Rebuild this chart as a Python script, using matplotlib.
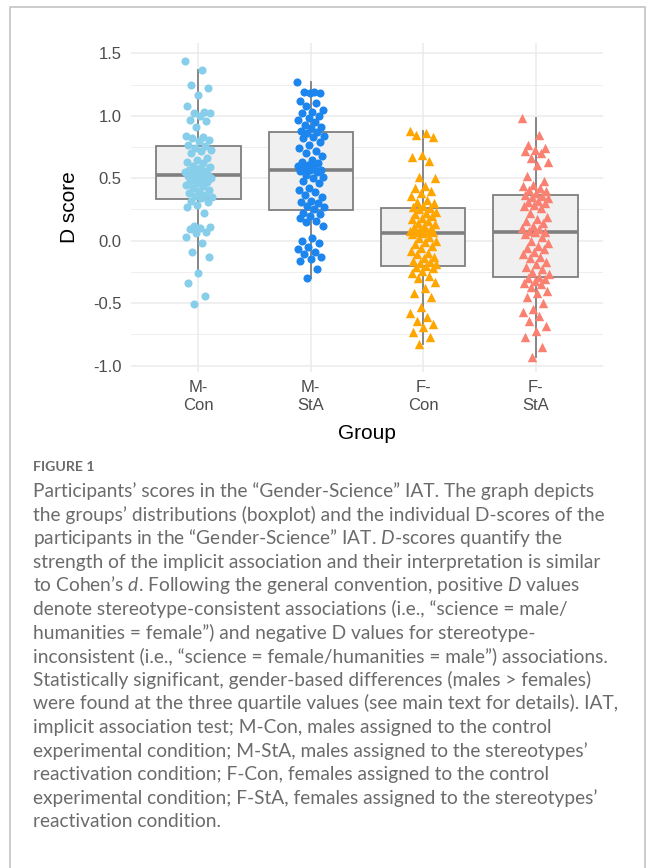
import numpy as np
import matplotlib.pyplot as plt
from matplotlib.patches import Rectangle

plt.rcParams['font.family'] = ['Liberation Sans', 'DejaVu Sans']
plt.rcParams['mathtext.fontset'] = 'custom'
plt.rcParams['mathtext.rm'] = 'Lato'
plt.rcParams['mathtext.it'] = 'Lato:italic'

# --- data (D scores) ---
groups = ["M-\nCon", "M-\nStA", "F-\nCon", "F-\nStA"]

m_con = [1.44, 1.37, 1.25, 1.22, 1.17, 1.08, 1.03, 1.02, 1.02, 1.00, 0.97, 0.96, 0.91,
         0.84, 0.83, 0.82, 0.81, 0.80, 0.77,
         0.76, 0.74, 0.73, 0.72, 0.70, 0.66, 0.65, 0.63, 0.62, 0.60, 0.59, 0.58, 0.57,
         0.56, 0.55, 0.55, 0.54, 0.54, 0.53,
         0.53, 0.52, 0.51, 0.50, 0.50, 0.49, 0.48, 0.47, 0.46, 0.45, 0.44, 0.42, 0.41,
         0.40, 0.38, 0.37, 0.36, 0.35, 0.34,
         0.32, 0.31, 0.29, 0.27, 0.22, 0.12, 0.11, 0.10, 0.09, 0.07, 0.06, 0.03, -0.02,
         -0.09, -0.13, -0.26, -0.34, -0.44, -0.51]

m_sta = [1.27, 1.19, 1.19, 1.18, 1.18, 1.12, 1.10, 1.08, 1.05, 1.03, 1.02, 1.00, 0.98,
         0.97, 0.95, 0.93, 0.91, 0.90, 0.88,
         0.87, 0.86, 0.84, 0.83, 0.82, 0.79, 0.77, 0.74, 0.72, 0.70, 0.68, 0.65, 0.63,
         0.62, 0.61, 0.60, 0.59, 0.58, 0.57,
         0.57, 0.56, 0.55, 0.53, 0.51, 0.50, 0.48, 0.46, 0.42, 0.41, 0.39, 0.37, 0.35,
         0.32, 0.31, 0.30, 0.28, 0.27, 0.25,
         0.22, 0.21, 0.20, 0.18, 0.16, 0.15, 0.12, 0.02, 0.00, -0.02, -0.05, -0.07,
         -0.09, -0.11, -0.13, -0.15, -0.16, -0.23, -0.30]

f_con = [0.88, 0.86, 0.85, 0.83, 0.69, 0.67, 0.64, 0.51, 0.50, 0.44, 0.42, 0.40, 0.38,
         0.36, 0.33, 0.31, 0.30, 0.28, 0.27,
         0.26, 0.25, 0.23, 0.22, 0.21, 0.20, 0.18, 0.17, 0.16, 0.14, 0.13, 0.12, 0.11,
         0.10, 0.09, 0.08, 0.08, 0.07, 0.07,
         0.06, 0.05, 0.03, 0.02, 0.00, -0.01, -0.03, -0.04, -0.06, -0.08, -0.10, -0.11,
         -0.13, -0.14, -0.16, -0.17, -0.18, -0.19, -0.20,
         -0.21, -0.22, -0.24, -0.26, -0.28, -0.30, -0.33, -0.38, -0.42, -0.45, -0.53,
         -0.58, -0.61, -0.64, -0.67, -0.69, -0.73, -0.77, -0.83]

f_sta = [0.98, 0.85, 0.77, 0.74, 0.73, 0.72, 0.70, 0.66, 0.63, 0.61, 0.52, 0.48, 0.45,
         0.44, 0.42, 0.41, 0.40, 0.38, 0.37,
         0.36, 0.35, 0.34, 0.32, 0.31, 0.30, 0.29, 0.28, 0.26, 0.22, 0.19, 0.17, 0.16,
         0.14, 0.12, 0.10, 0.09, 0.08, 0.07,
         0.07, 0.05, 0.03, 0.00, -0.02, -0.04, -0.06, -0.07, -0.09, -0.11, -0.13, -0.14,
         -0.17, -0.19, -0.21, -0.23, -0.25, -0.27, -0.29,
         -0.30, -0.31, -0.32, -0.34, -0.35, -0.37, -0.40, -0.42, -0.45, -0.50, -0.55,
         -0.57, -0.60, -0.64, -0.68, -0.72, -0.77, -0.85, -0.93]

scores = [m_con, m_sta, f_con, f_sta]
colors = ["#87CEEB", "#1C86EE", "#FFA500", "#FA8072"]
markers = ["o", "o", "^", "^"]

caption_lines = [
    "Participants\u2019 scores in the \u201cGender-Science\u201d IAT. The graph depicts",
    "the groups\u2019 distributions (boxplot) and the individual D-scores of the",
    "participants in the \u201cGender-Science\u201d IAT. $D$-scores quantify the",
    "strength of the implicit association and their interpretation is similar",
    "to Cohen\u2019s $d$. Following the general convention, positive $D$ values",
    "denote stereotype-consistent associations (i.e., \u201cscience = male/",
    "humanities = female\u201d) and negative D values for stereotype-",
    "inconsistent (i.e., \u201cscience = female/humanities = male\u201d) associations.",
    "Statistically significant, gender-based differences (males > females)",
    "were found at the three quartile values (see main text for details). IAT,",
    "implicit association test; M-Con, males assigned to the control",
    "experimental condition; M-StA, males assigned to the stereotypes\u2019",
    "reactivation condition; F-Con, females assigned to the control",
    "experimental condition; F-StA, females assigned to the stereotypes\u2019",
    "reactivation condition.",
]

W, H = 656, 868
fig = plt.figure(figsize=(W / 100, H / 100), dpi=100)
ax = fig.add_axes([131 / W, 1 - 372 / H, 472 / W, 329 / H])

pos = np.arange(1, len(groups) + 1)
box_col = "#7F7F7F"
ax.boxplot(scores, positions=pos, widths=0.75, patch_artist=True, showfliers=False,
           showcaps=False, whis=1.5, zorder=2,
           boxprops=dict(facecolor="#F0F0F0", edgecolor=box_col, linewidth=1.3),
           medianprops=dict(color=box_col, linewidth=2.6),
           whiskerprops=dict(color=box_col, linewidth=1.3))

# jittered points (deterministic spread)
for p, vals, c, m in zip(pos, scores, colors, markers):
    n = len(vals)
    off = ((np.arange(n) * 0.6180339) % 1.0 - 0.5) * 0.24
    ax.scatter(p + off, vals, s=34 if m == "o" else 46, color=c, marker=m,
               linewidths=0, zorder=3)

ax.set_xlim(0.4, 4.6)
ax.set_ylim(-1.052, 1.584)
ax.set_yticks([-1.0, -0.5, 0.0, 0.5, 1.0, 1.5])
ax.set_yticks([-0.75, -0.25, 0.25, 0.75, 1.25], minor=True)
ax.set_xticks(pos)
ax.set_xticklabels(groups, linespacing=1.2)
ax.set_yticklabels(["-1.0", "-0.5", "0.0", "0.5", "1.0", "1.5"])
ax.tick_params(axis="both", which="both", length=0, labelsize=12, labelcolor="#4D4D4D")
ax.tick_params(axis="y", pad=7)
ax.tick_params(axis="x", pad=6)
ax.grid(which="major", color="#EBEBEB", linewidth=1.1)
ax.grid(which="minor", axis="y", color="#EBEBEB", linewidth=0.6)
ax.set_axisbelow(True)
for s in ax.spines.values():
    s.set_visible(False)

ax.set_ylabel("D score", fontsize=15, color="black", labelpad=10)
ax.set_xlabel("Group", fontsize=15, color="black", labelpad=8)

# panel border
fig.patches.append(Rectangle((10 / W, -0.05), 635 / W, 1.05 - 7 / H, fill=False,
                             edgecolor="#C4C4C4", linewidth=1.2,
                             transform=fig.transFigure))

cap_col = "#6B6B6B"
fig.text(33 / W, 1 - 471 / H, "FIGURE 1", fontsize=10.2, color=cap_col,
         family=["Lato", "DejaVu Sans"], fontweight="bold", va="baseline")
for i, line in enumerate(caption_lines):
    y = 497 + i * 23.6
    fig.text(33 / W, 1 - y / H, line, fontsize=13.8, color=cap_col,
             family=["Lato", "DejaVu Sans"], va="baseline")

fig.savefig("out.png", dpi=100)
